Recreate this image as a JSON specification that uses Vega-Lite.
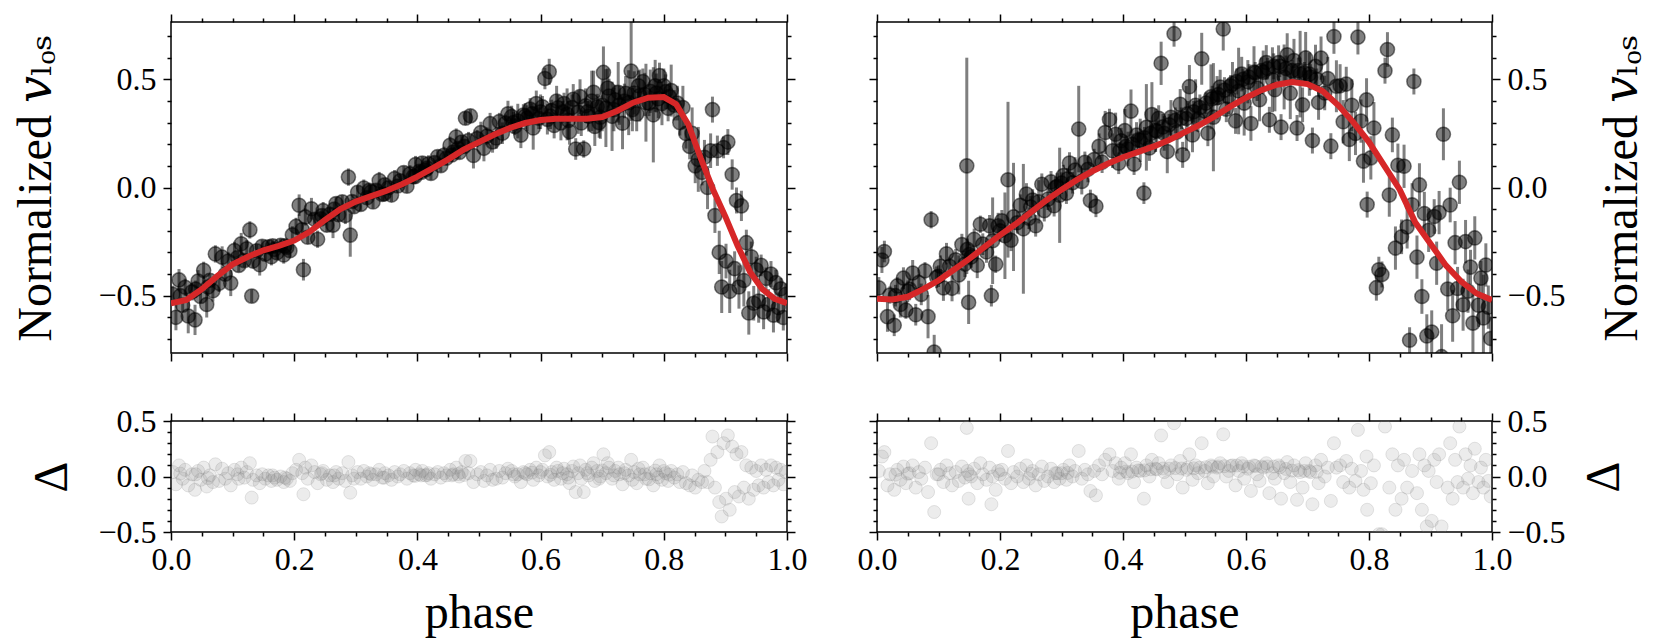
{
  "$schema": "https://vega.github.io/schema/vega-lite/v6.json",
  "background": "white",
  "padding": {"left": 12, "top": 12, "right": 5, "bottom": 5},
  "config": {
    "view": {"stroke": "black", "strokeWidth": 1.5},
    "axis": {
      "grid": false, "domain": false, "tickColor": "black", "tickWidth": 1.5,
      "labelFont": "Liberation Serif", "labelFontSize": 32, "labelColor": "black",
      "labelFlush": false, "labelOverlap": false, "labelPadding": 7,
      "titleFont": "Liberation Serif, DejaVu Serif", "titleFontSize": 48, "titleFontWeight": "normal", "titleColor": "black"
    }
  },
  "datasets": {
    "ptsL": [
      {"phase":0.003,"v":-0.494,"e":0.04,"d":0.04},{"phase":0.008,"v":-0.60,"e":0.06,"d":-0.07},{"phase":0.013,"v":-0.427,"e":0.05,"d":0.10},{"phase":0.019,"v":-0.544,"e":0.03,"d":-0.02},{"phase":0.023,"v":-0.461,"e":0.04,"d":0.06},
      {"phase":0.028,"v":-0.594,"e":0.08,"d":-0.08},{"phase":0.034,"v":-0.482,"e":0.04,"d":0.02},{"phase":0.039,"v":-0.612,"e":0.07,"d":-0.12},{"phase":0.044,"v":-0.432,"e":0.05,"d":0.05},{"phase":0.048,"v":-0.504,"e":0.03,"d":-0.03},
      {"phase":0.053,"v":-0.383,"e":0.04,"d":0.08},{"phase":0.058,"v":-0.541,"e":0.06,"d":-0.09},{"phase":0.063,"v":-0.429,"e":0.03,"d":0.01},{"phase":0.068,"v":-0.477,"e":0.05,"d":-0.05},{"phase":0.072,"v":-0.307,"e":0.04,"d":0.11},
      {"phase":0.078,"v":-0.443,"e":0.04,"d":-0.04},{"phase":0.083,"v":-0.322,"e":0.05,"d":0.07},{"phase":0.088,"v":-0.401,"e":0.03,"d":-0.02},{"phase":0.093,"v":-0.34,"e":0.04,"d":0.03},{"phase":0.097,"v":-0.442,"e":0.06,"d":-0.08},
      {"phase":0.103,"v":-0.291,"e":0.04,"d":0.06},{"phase":0.108,"v":-0.324,"e":0.03,"d":0.02},{"phase":0.114,"v":-0.26,"e":0.05,"d":0.08},{"phase":0.119,"v":-0.338,"e":0.03,"d":-0.01},{"phase":0.123,"v":-0.283,"e":0.04,"d":0.04},
      {"phase":0.128,"v":-0.196,"e":0.04,"d":0.12},{"phase":0.131,"v":-0.502,"e":0.03,"d":-0.19},{"phase":0.133,"v":-0.34,"e":0.03,"d":-0.03},{"phase":0.139,"v":-0.293,"e":0.03,"d":0.01},{"phase":0.144,"v":-0.357,"e":0.05,"d":-0.06},{"phase":0.148,"v":-0.272,"e":0.03,"d":0.02},
      {"phase":0.153,"v":-0.308,"e":0.03,"d":-0.02},{"phase":0.158,"v":-0.274,"e":0.03,"d":0.01},{"phase":0.163,"v":-0.32,"e":0.04,"d":-0.04},{"phase":0.168,"v":-0.286,"e":0.02,"d":-0.01},{"phase":0.172,"v":-0.302,"e":0.03,"d":-0.03},
      {"phase":0.178,"v":-0.267,"e":0.03,"d":0.0},{"phase":0.183,"v":-0.312,"e":0.04,"d":-0.05},{"phase":0.188,"v":-0.277,"e":0.03,"d":-0.02},{"phase":0.193,"v":-0.292,"e":0.03,"d":-0.04},{"phase":0.197,"v":-0.219,"e":0.04,"d":0.03},
      {"phase":0.203,"v":-0.18,"e":0.04,"d":0.06},{"phase":0.208,"v":-0.082,"e":0.05,"d":0.15},{"phase":0.213,"v":-0.194,"e":0.03,"d":0.03},{"phase":0.215,"v":-0.38,"e":0.05,"d":-0.16},{"phase":0.218,"v":-0.136,"e":0.04,"d":0.08},{"phase":0.222,"v":-0.23,"e":0.03,"d":-0.02},
      {"phase":0.228,"v":-0.098,"e":0.05,"d":0.10},{"phase":0.233,"v":-0.147,"e":0.03,"d":0.04},{"phase":0.238,"v":-0.239,"e":0.04,"d":-0.06},{"phase":0.243,"v":-0.145,"e":0.03,"d":0.02},{"phase":0.247,"v":-0.107,"e":0.04,"d":0.05},
      {"phase":0.253,"v":-0.174,"e":0.03,"d":-0.03},{"phase":0.258,"v":-0.124,"e":0.03,"d":0.01},{"phase":0.263,"v":-0.174,"e":0.06,"d":-0.05},{"phase":0.268,"v":-0.074,"e":0.03,"d":0.04},{"phase":0.272,"v":-0.126,"e":0.03,"d":-0.02},
      {"phase":0.278,"v":-0.066,"e":0.03,"d":0.03},{"phase":0.283,"v":-0.129,"e":0.04,"d":-0.04},{"phase":0.288,"v":0.048,"e":0.04,"d":0.13},{"phase":0.291,"v":-0.22,"e":0.10,"d":-0.146},{"phase":0.294,"v":-0.065,"e":0.03,"d":0.01},{"phase":0.297,"v":-0.089,"e":0.03,"d":-0.02},
      {"phase":0.303,"v":-0.022,"e":0.03,"d":0.04},{"phase":0.308,"v":-0.078,"e":0.03,"d":-0.02},{"phase":0.313,"v":-0.003,"e":0.04,"d":0.05},{"phase":0.318,"v":-0.047,"e":0.03,"d":0.0},{"phase":0.322,"v":-0.013,"e":0.03,"d":0.03},
      {"phase":0.328,"v":-0.067,"e":0.03,"d":-0.03},{"phase":0.333,"v":-0.013,"e":0.03,"d":0.02},{"phase":0.338,"v":0.032,"e":0.04,"d":0.06},{"phase":0.343,"v":-0.032,"e":0.03,"d":-0.01},{"phase":0.347,"v":0.012,"e":0.03,"d":0.03},
      {"phase":0.353,"v":-0.001,"e":0.03,"d":0.01},{"phase":0.358,"v":-0.035,"e":0.03,"d":-0.03},{"phase":0.363,"v":0.041,"e":0.04,"d":0.04},{"phase":0.368,"v":0.007,"e":0.03,"d":0.0},{"phase":0.372,"v":0.031,"e":0.03,"d":0.02},
      {"phase":0.378,"v":0.069,"e":0.03,"d":0.05},{"phase":0.383,"v":0.006,"e":0.03,"d":-0.02},{"phase":0.388,"v":0.063,"e":0.04,"d":0.03},{"phase":0.393,"v":0.05,"e":0.03,"d":0.01},{"phase":0.397,"v":0.106,"e":0.04,"d":0.06},
      {"phase":0.403,"v":0.075,"e":0.03,"d":0.02},{"phase":0.408,"v":0.113,"e":0.03,"d":0.05},{"phase":0.413,"v":0.081,"e":0.03,"d":0.01},{"phase":0.418,"v":0.109,"e":0.04,"d":0.03},{"phase":0.422,"v":0.065,"e":0.03,"d":-0.02},
      {"phase":0.428,"v":0.115,"e":0.03,"d":0.02},{"phase":0.433,"v":0.143,"e":0.03,"d":0.04},{"phase":0.438,"v":0.101,"e":0.03,"d":-0.01},{"phase":0.443,"v":0.149,"e":0.04,"d":0.03},{"phase":0.447,"v":0.135,"e":0.03,"d":0.01},
      {"phase":0.453,"v":0.195,"e":0.04,"d":0.06},{"phase":0.458,"v":0.164,"e":0.03,"d":0.02},{"phase":0.463,"v":0.233,"e":0.04,"d":0.08},{"phase":0.468,"v":0.162,"e":0.03,"d":0.0},{"phase":0.472,"v":0.21,"e":0.03,"d":0.04},
      {"phase":0.478,"v":0.32,"e":0.03,"d":0.14},{"phase":0.483,"v":0.217,"e":0.04,"d":0.03},{"phase":0.486,"v":0.331,"e":0.03,"d":0.14},{"phase":0.491,"v":0.148,"e":0.06,"d":-0.05},{"phase":0.497,"v":0.226,"e":0.04,"d":0.02},
      {"phase":0.503,"v":0.254,"e":0.05,"d":0.04},{"phase":0.508,"v":0.181,"e":0.06,"d":-0.04},{"phase":0.513,"v":0.238,"e":0.04,"d":0.01},{"phase":0.518,"v":0.295,"e":0.05,"d":0.06},{"phase":0.522,"v":0.211,"e":0.05,"d":-0.03},
      {"phase":0.528,"v":0.229,"e":0.05,"d":-0.02},{"phase":0.533,"v":0.305,"e":0.04,"d":0.05},{"phase":0.538,"v":0.251,"e":0.05,"d":-0.01},{"phase":0.543,"v":0.297,"e":0.04,"d":0.03},{"phase":0.547,"v":0.341,"e":0.06,"d":0.07},
      {"phase":0.553,"v":0.328,"e":0.05,"d":0.05},{"phase":0.558,"v":0.282,"e":0.04,"d":0.0},{"phase":0.563,"v":0.307,"e":0.08,"d":0.02},{"phase":0.568,"v":0.242,"e":0.06,"d":-0.05},{"phase":0.572,"v":0.335,"e":0.05,"d":0.04},
      {"phase":0.578,"v":0.32,"e":0.06,"d":0.02},{"phase":0.583,"v":0.363,"e":0.05,"d":0.06},{"phase":0.588,"v":0.275,"e":0.10,"d":-0.03},{"phase":0.593,"v":0.388,"e":0.06,"d":0.08},{"phase":0.597,"v":0.32,"e":0.05,"d":0.01},
      {"phase":0.603,"v":0.373,"e":0.05,"d":0.06},{"phase":0.607,"v":0.504,"e":0.05,"d":0.19},{"phase":0.611,"v":0.315,"e":0.07,"d":0.0},{"phase":0.614,"v":0.535,"e":0.06,"d":0.22},{"phase":0.618,"v":0.356,"e":0.05,"d":0.04},{"phase":0.622,"v":0.287,"e":0.06,"d":-0.03},
      {"phase":0.628,"v":0.368,"e":0.06,"d":0.05},{"phase":0.633,"v":0.298,"e":0.08,"d":-0.02},{"phase":0.638,"v":0.388,"e":0.05,"d":0.07},{"phase":0.643,"v":0.338,"e":0.12,"d":0.02},{"phase":0.647,"v":0.258,"e":0.06,"d":-0.06},
      {"phase":0.653,"v":0.408,"e":0.07,"d":0.09},{"phase":0.657,"v":0.178,"e":0.05,"d":-0.14},{"phase":0.661,"v":0.348,"e":0.10,"d":0.03},{"phase":0.666,"v":0.298,"e":0.06,"d":-0.02},{"phase":0.670,"v":0.178,"e":0.04,"d":-0.14},{"phase":0.673,"v":0.378,"e":0.08,"d":0.06},
      {"phase":0.678,"v":0.329,"e":0.07,"d":0.01},{"phase":0.683,"v":0.40,"e":0.14,"d":0.08},{"phase":0.688,"v":0.282,"e":0.09,"d":-0.04},{"phase":0.692,"v":0.373,"e":0.06,"d":0.05},{"phase":0.697,"v":0.325,"e":0.10,"d":0.0},
      {"phase":0.702,"v":0.532,"e":0.12,"d":0.20},{"phase":0.706,"v":0.367,"e":0.18,"d":0.03},{"phase":0.711,"v":0.423,"e":0.08,"d":0.08},{"phase":0.716,"v":0.329,"e":0.16,"d":-0.02},{"phase":0.721,"v":0.405,"e":0.07,"d":0.05},
      {"phase":0.728,"v":0.38,"e":0.09,"d":0.02},{"phase":0.733,"v":0.297,"e":0.12,"d":-0.07},{"phase":0.738,"v":0.435,"e":0.08,"d":0.06},{"phase":0.743,"v":0.392,"e":0.15,"d":0.01},{"phase":0.747,"v":0.538,"e":0.23,"d":0.15},
      {"phase":0.752,"v":0.437,"e":0.10,"d":0.04},{"phase":0.756,"v":0.34,"e":0.08,"d":-0.06},{"phase":0.761,"v":0.425,"e":0.12,"d":0.02},{"phase":0.766,"v":0.49,"e":0.06,"d":0.08},{"phase":0.771,"v":0.392,"e":0.18,"d":-0.02},
      {"phase":0.778,"v":0.445,"e":0.10,"d":0.03},{"phase":0.783,"v":0.336,"e":0.22,"d":-0.08},{"phase":0.788,"v":0.437,"e":0.09,"d":0.02},{"phase":0.793,"v":0.517,"e":0.06,"d":0.10},{"phase":0.797,"v":0.388,"e":0.10,"d":-0.03},
      {"phase":0.803,"v":0.443,"e":0.08,"d":0.03},{"phase":0.807,"v":0.366,"e":0.06,"d":-0.04},{"phase":0.812,"v":0.448,"e":0.12,"d":0.05},{"phase":0.817,"v":0.38,"e":0.07,"d":-0.01},
      {"phase":0.822,"v":0.39,"e":0.08,"d":0.02},{"phase":0.826,"v":0.30,"e":0.06,"d":-0.05},{"phase":0.831,"v":0.37,"e":0.10,"d":0.04},{"phase":0.836,"v":0.25,"e":0.07,"d":-0.06},
      {"phase":0.842,"v":0.19,"e":0.06,"d":-0.08},{"phase":0.846,"v":0.25,"e":0.12,"d":0.01},{"phase":0.851,"v":0.10,"e":0.08,"d":-0.10},{"phase":0.856,"v":0.13,"e":0.15,"d":-0.03},
      {"phase":0.862,"v":0.07,"e":0.06,"d":-0.05},{"phase":0.866,"v":0.14,"e":0.08,"d":0.05},{"phase":0.871,"v":0.0,"e":0.10,"d":-0.05},{"phase":0.876,"v":0.17,"e":0.08,"d":0.15},{"phase":0.879,"v":0.36,"e":0.06,"d":0.36},
      {"phase":0.883,"v":-0.13,"e":0.08,"d":-0.10},{"phase":0.887,"v":0.17,"e":0.07,"d":0.22},{"phase":0.890,"v":-0.30,"e":0.10,"d":-0.23},{"phase":0.894,"v":-0.46,"e":0.12,"d":-0.36},{"phase":0.897,"v":0.185,"e":0.05,"d":0.30},
      {"phase":0.901,"v":-0.34,"e":0.08,"d":-0.20},{"phase":0.904,"v":0.21,"e":0.06,"d":0.37},{"phase":0.907,"v":-0.48,"e":0.10,"d":-0.30},{"phase":0.911,"v":0.06,"e":0.07,"d":0.27},{"phase":0.915,"v":-0.375,"e":0.08,"d":-0.14},{"phase":0.918,"v":-0.06,"e":0.06,"d":0.20},
      {"phase":0.922,"v":-0.46,"e":0.10,"d":-0.18},{"phase":0.926,"v":-0.085,"e":0.07,"d":0.22},{"phase":0.930,"v":-0.43,"e":0.12,"d":-0.10},{"phase":0.934,"v":-0.255,"e":0.06,"d":0.10},{"phase":0.938,"v":-0.58,"e":0.10,"d":-0.20},
      {"phase":0.942,"v":-0.32,"e":0.07,"d":0.08},{"phase":0.946,"v":-0.535,"e":0.08,"d":-0.12},{"phase":0.950,"v":-0.38,"e":0.06,"d":0.05},{"phase":0.954,"v":-0.525,"e":0.10,"d":-0.08},{"phase":0.958,"v":-0.36,"e":0.05,"d":0.10},
      {"phase":0.962,"v":-0.575,"e":0.08,"d":-0.10},{"phase":0.966,"v":-0.42,"e":0.05,"d":0.06},{"phase":0.970,"v":-0.54,"e":0.07,"d":-0.05},{"phase":0.974,"v":-0.40,"e":0.06,"d":0.10},{"phase":0.978,"v":-0.59,"e":0.08,"d":-0.08},
      {"phase":0.982,"v":-0.44,"e":0.06,"d":0.08},{"phase":0.986,"v":-0.555,"e":0.07,"d":-0.03},{"phase":0.990,"v":-0.468,"e":0.05,"d":0.06},{"phase":0.994,"v":-0.601,"e":0.06,"d":-0.07},{"phase":0.998,"v":-0.494,"e":0.05,"d":0.04},
      {"phase":0.556,"v":0.30,"e":0.05,"d":0.02},{"phase":0.575,"v":0.33,"e":0.06,"d":0.03},{"phase":0.586,"v":0.34,"e":0.05,"d":0.035},{"phase":0.600,"v":0.35,"e":0.08,"d":0.04},{"phase":0.616,"v":0.33,"e":0.06,"d":0.015},
      {"phase":0.626,"v":0.40,"e":0.07,"d":0.08},{"phase":0.636,"v":0.35,"e":0.05,"d":0.03},{"phase":0.645,"v":0.31,"e":0.09,"d":-0.01},{"phase":0.651,"v":0.37,"e":0.06,"d":0.05},{"phase":0.664,"v":0.42,"e":0.08,"d":0.10},
      {"phase":0.676,"v":0.35,"e":0.05,"d":0.03},{"phase":0.686,"v":0.44,"e":0.10,"d":0.12},{"phase":0.695,"v":0.30,"e":0.07,"d":-0.02},{"phase":0.700,"v":0.38,"e":0.12,"d":0.054},{"phase":0.709,"v":0.46,"e":0.09,"d":0.12},
      {"phase":0.719,"v":0.36,"e":0.10,"d":0.01},{"phase":0.726,"v":0.44,"e":0.14,"d":0.08},{"phase":0.736,"v":0.40,"e":0.08,"d":0.03},{"phase":0.749,"v":0.36,"e":0.10,"d":-0.03},{"phase":0.759,"v":0.47,"e":0.07,"d":0.07},
      {"phase":0.769,"v":0.43,"e":0.10,"d":0.02},{"phase":0.776,"v":0.39,"e":0.06,"d":-0.025},{"phase":0.786,"v":0.47,"e":0.12,"d":0.053},{"phase":0.791,"v":0.41,"e":0.09,"d":-0.007},{"phase":0.800,"v":0.47,"e":0.08,"d":0.05},
      {"phase":0.809,"v":0.42,"e":0.06,"d":0.017},{"phase":0.476,"v":0.19,"e":0.03,"d":0.014},{"phase":0.466,"v":0.18,"e":0.03,"d":0.022},{"phase":0.456,"v":0.15,"e":0.03,"d":0.01},{"phase":0.416,"v":0.09,"e":0.03,"d":0.014},
      {"phase":0.406,"v":0.07,"e":0.03,"d":0.01},{"phase":0.396,"v":0.05,"e":0.03,"d":0.005},{"phase":0.346,"v":-0.03,"e":0.03,"d":-0.011},{"phase":0.325,"v":-0.02,"e":0.03,"d":0.02},{"phase":0.265,"v":-0.10,"e":0.03,"d":0.01},
      {"phase":0.245,"v":-0.13,"e":0.03,"d":0.03},{"phase":0.185,"v":-0.27,"e":0.03,"d":-0.01},{"phase":0.165,"v":-0.27,"e":0.03,"d":0.01},{"phase":0.110,"v":-0.36,"e":0.03,"d":-0.02},{"phase":0.060,"v":-0.46,"e":0.04,"d":-0.014},
      {"phase":0.040,"v":-0.47,"e":0.04,"d":0.02},{"phase":0.015,"v":-0.50,"e":0.03,"d":0.026}
    ],
    "ptsR": [
      {"phase":0.003,"v":-0.464,"e":0.05,"d":0.05},{"phase":0.008,"v":-0.335,"e":0.06,"d":0.18},{"phase":0.012,"v":-0.296,"e":0.05,"d":0.22},{"phase":0.017,"v":-0.597,"e":0.07,"d":-0.08},{"phase":0.021,"v":-0.497,"e":0.04,"d":0.02},
      {"phase":0.028,"v":-0.637,"e":0.05,"d":-0.12},{"phase":0.033,"v":-0.455,"e":0.04,"d":0.06},{"phase":0.038,"v":-0.541,"e":0.06,"d":-0.03},{"phase":0.043,"v":-0.419,"e":0.05,"d":0.09},{"phase":0.047,"v":-0.567,"e":0.04,"d":-0.06},
      {"phase":0.053,"v":-0.471,"e":0.05,"d":0.03},{"phase":0.058,"v":-0.395,"e":0.06,"d":0.10},{"phase":0.063,"v":-0.588,"e":0.05,"d":-0.10},{"phase":0.068,"v":-0.44,"e":0.04,"d":0.04},{"phase":0.072,"v":-0.494,"e":0.05,"d":-0.02},
      {"phase":0.078,"v":-0.385,"e":0.04,"d":0.08},{"phase":0.083,"v":-0.597,"e":0.10,"d":-0.14},{"phase":0.088,"v":-0.149,"e":0.04,"d":0.30},{"phase":0.093,"v":-0.761,"e":0.08,"d":-0.32},{"phase":0.097,"v":-0.415,"e":0.05,"d":0.02},
      {"phase":0.103,"v":-0.364,"e":0.05,"d":0.06},{"phase":0.108,"v":-0.464,"e":0.06,"d":-0.05},{"phase":0.113,"v":-0.306,"e":0.05,"d":0.10},{"phase":0.118,"v":-0.364,"e":0.04,"d":0.03},{"phase":0.122,"v":-0.466,"e":0.06,"d":-0.08},
      {"phase":0.128,"v":-0.334,"e":0.05,"d":0.04},{"phase":0.133,"v":-0.404,"e":0.09,"d":-0.04},{"phase":0.138,"v":-0.264,"e":0.05,"d":0.09},{"phase":0.143,"v":-0.354,"e":0.06,"d":-0.01},{"phase":0.146,"v":0.10,"e":0.50,"d":0.438},{"phase":0.147,"v":-0.286,"e":0.05,"d":0.05},{"phase":0.149,"v":-0.531,"e":0.10,"d":-0.20},
      {"phase":0.153,"v":-0.321,"e":0.05,"d":0.0},{"phase":0.158,"v":-0.24,"e":0.05,"d":0.07},{"phase":0.163,"v":-0.359,"e":0.06,"d":-0.06},{"phase":0.168,"v":-0.17,"e":0.04,"d":0.12},{"phase":0.172,"v":-0.262,"e":0.05,"d":0.02},
      {"phase":0.178,"v":-0.298,"e":0.05,"d":-0.03},{"phase":0.183,"v":-0.177,"e":0.05,"d":0.08},{"phase":0.186,"v":-0.50,"e":0.05,"d":-0.25},{"phase":0.188,"v":-0.246,"e":0.20,"d":0.0},{"phase":0.193,"v":-0.355,"e":0.04,"d":-0.12},{"phase":0.197,"v":-0.177,"e":0.06,"d":0.05},
      {"phase":0.203,"v":-0.154,"e":0.05,"d":0.06},{"phase":0.208,"v":-0.223,"e":0.20,"d":-0.02},{"phase":0.213,"v":0.036,"e":0.36,"d":0.23},{"phase":0.218,"v":-0.244,"e":0.05,"d":-0.06},{"phase":0.222,"v":-0.136,"e":0.25,"d":0.04},
      {"phase":0.228,"v":-0.163,"e":0.05,"d":0.0},{"phase":0.233,"v":-0.082,"e":0.05,"d":0.07},{"phase":0.238,"v":-0.191,"e":0.30,"d":-0.05},{"phase":0.243,"v":-0.03,"e":0.05,"d":0.10},{"phase":0.247,"v":-0.142,"e":0.05,"d":-0.02},
      {"phase":0.253,"v":-0.058,"e":0.05,"d":0.05},{"phase":0.258,"v":-0.177,"e":0.05,"d":-0.08},{"phase":0.263,"v":-0.066,"e":0.10,"d":0.02},{"phase":0.268,"v":0.015,"e":0.05,"d":0.09},{"phase":0.272,"v":-0.107,"e":0.05,"d":-0.04},
      {"phase":0.278,"v":-0.054,"e":0.05,"d":0.0},{"phase":0.283,"v":0.026,"e":0.05,"d":0.07},{"phase":0.288,"v":-0.084,"e":0.05,"d":-0.05},{"phase":0.293,"v":0.006,"e":0.06,"d":0.03},{"phase":0.297,"v":-0.036,"e":0.22,"d":-0.02},
      {"phase":0.303,"v":0.055,"e":0.05,"d":0.06},{"phase":0.308,"v":-0.026,"e":0.05,"d":-0.03},{"phase":0.313,"v":0.113,"e":0.05,"d":0.10},{"phase":0.318,"v":0.022,"e":0.05,"d":0.0},{"phase":0.322,"v":0.08,"e":0.06,"d":0.05},
      {"phase":0.328,"v":0.27,"e":0.20,"d":0.23},{"phase":0.333,"v":0.028,"e":0.06,"d":-0.02},{"phase":0.338,"v":0.116,"e":0.05,"d":0.06},{"phase":0.343,"v":0.084,"e":0.06,"d":0.02},{"phase":0.347,"v":-0.06,"e":0.05,"d":-0.13},
      {"phase":0.353,"v":0.129,"e":0.05,"d":0.05},{"phase":0.356,"v":-0.087,"e":0.05,"d":-0.17},{"phase":0.361,"v":0.19,"e":0.06,"d":0.10},{"phase":0.366,"v":0.117,"e":0.05,"d":0.02},{"phase":0.371,"v":0.254,"e":0.10,"d":0.15},
      {"phase":0.378,"v":0.314,"e":0.05,"d":0.20},{"phase":0.383,"v":0.17,"e":0.08,"d":0.05},{"phase":0.388,"v":0.246,"e":0.10,"d":0.12},{"phase":0.393,"v":0.112,"e":0.05,"d":-0.02},{"phase":0.397,"v":0.216,"e":0.06,"d":0.08},
      {"phase":0.403,"v":0.263,"e":0.10,"d":0.12},{"phase":0.408,"v":0.178,"e":0.08,"d":0.03},{"phase":0.413,"v":0.353,"e":0.10,"d":0.20},{"phase":0.418,"v":0.108,"e":0.05,"d":-0.05},{"phase":0.422,"v":0.242,"e":0.06,"d":0.08},
      {"phase":0.428,"v":0.218,"e":0.10,"d":0.05},{"phase":0.434,"v":-0.026,"e":0.05,"d":-0.20},{"phase":0.438,"v":0.278,"e":0.20,"d":0.10},{"phase":0.443,"v":0.183,"e":0.06,"d":0.0},{"phase":0.447,"v":0.337,"e":0.15,"d":0.15},
      {"phase":0.453,"v":0.264,"e":0.10,"d":0.07},{"phase":0.458,"v":0.32,"e":0.06,"d":0.12},{"phase":0.462,"v":0.574,"e":0.10,"d":0.37},{"phase":0.467,"v":0.25,"e":0.08,"d":0.04},{"phase":0.472,"v":0.166,"e":0.10,"d":-0.05},
      {"phase":0.478,"v":0.324,"e":0.08,"d":0.10},{"phase":0.483,"v":0.711,"e":0.06,"d":0.48},{"phase":0.488,"v":0.257,"e":0.10,"d":0.02},{"phase":0.493,"v":0.385,"e":0.07,"d":0.14},{"phase":0.497,"v":0.151,"e":0.06,"d":-0.10},
      {"phase":0.503,"v":0.319,"e":0.15,"d":0.06},{"phase":0.508,"v":0.466,"e":0.10,"d":0.20},{"phase":0.513,"v":0.243,"e":0.08,"d":-0.03},{"phase":0.518,"v":0.38,"e":0.12,"d":0.10},{"phase":0.522,"v":0.316,"e":0.06,"d":0.03},
      {"phase":0.528,"v":0.595,"e":0.12,"d":0.30},{"phase":0.533,"v":0.353,"e":0.06,"d":0.05},{"phase":0.538,"v":0.251,"e":0.06,"d":-0.06},{"phase":0.543,"v":0.419,"e":0.15,"d":0.10},{"phase":0.547,"v":0.325,"e":0.25,"d":0.0},
      {"phase":0.553,"v":0.415,"e":0.10,"d":0.08},{"phase":0.558,"v":0.464,"e":0.08,"d":0.12},{"phase":0.563,"v":0.733,"e":0.10,"d":0.38},{"phase":0.568,"v":0.362,"e":0.06,"d":0.0},{"phase":0.572,"v":0.419,"e":0.08,"d":0.05},
      {"phase":0.578,"v":0.48,"e":0.10,"d":0.10},{"phase":0.583,"v":0.308,"e":0.06,"d":-0.08},{"phase":0.588,"v":0.446,"e":0.20,"d":0.05},{"phase":0.593,"v":0.524,"e":0.08,"d":0.12},{"phase":0.597,"v":0.39,"e":0.15,"d":-0.02},
      {"phase":0.603,"v":0.489,"e":0.10,"d":0.07},{"phase":0.608,"v":0.296,"e":0.08,"d":-0.13},{"phase":0.613,"v":0.533,"e":0.12,"d":0.10},{"phase":0.618,"v":0.46,"e":0.06,"d":0.02},{"phase":0.622,"v":0.406,"e":0.10,"d":-0.04},
      {"phase":0.628,"v":0.533,"e":0.10,"d":0.08},{"phase":0.633,"v":0.578,"e":0.08,"d":0.12},{"phase":0.638,"v":0.313,"e":0.06,"d":-0.15},{"phase":0.643,"v":0.498,"e":0.15,"d":0.03},{"phase":0.647,"v":0.452,"e":0.10,"d":-0.02},
      {"phase":0.653,"v":0.577,"e":0.08,"d":0.10},{"phase":0.657,"v":0.279,"e":0.06,"d":-0.20},{"phase":0.662,"v":0.511,"e":0.15,"d":0.03},{"phase":0.667,"v":0.613,"e":0.10,"d":0.13},{"phase":0.672,"v":0.436,"e":0.12,"d":-0.05},
      {"phase":0.678,"v":0.587,"e":0.10,"d":0.10},{"phase":0.683,"v":0.275,"e":0.06,"d":-0.21},{"phase":0.688,"v":0.524,"e":0.20,"d":0.04},{"phase":0.692,"v":0.382,"e":0.08,"d":-0.10},{"phase":0.697,"v":0.599,"e":0.12,"d":0.12},
      {"phase":0.703,"v":0.524,"e":0.10,"d":0.05},{"phase":0.708,"v":0.217,"e":0.06,"d":-0.25},{"phase":0.713,"v":0.56,"e":0.10,"d":0.10},{"phase":0.718,"v":0.393,"e":0.08,"d":-0.06},{"phase":0.722,"v":0.598,"e":0.10,"d":0.15},
      {"phase":0.728,"v":0.437,"e":0.08,"d":0.0},{"phase":0.733,"v":0.504,"e":0.10,"d":0.08},{"phase":0.738,"v":0.191,"e":0.06,"d":-0.22},{"phase":0.743,"v":0.698,"e":0.08,"d":0.30},{"phase":0.747,"v":0.468,"e":0.12,"d":0.08},
      {"phase":0.753,"v":0.47,"e":0.10,"d":0.10},{"phase":0.758,"v":0.304,"e":0.10,"d":-0.05},{"phase":0.763,"v":0.478,"e":0.08,"d":0.14},{"phase":0.768,"v":0.222,"e":0.10,"d":-0.10},{"phase":0.772,"v":0.38,"e":0.12,"d":0.07},
      {"phase":0.778,"v":0.25,"e":0.10,"d":-0.04},{"phase":0.782,"v":0.695,"e":0.08,"d":0.42},{"phase":0.787,"v":0.307,"e":0.10,"d":0.05},{"phase":0.791,"v":0.122,"e":0.10,"d":-0.12},{"phase":0.796,"v":0.405,"e":0.10,"d":0.18},{"phase":0.797,"v":-0.079,"e":0.06,"d":-0.30},
      {"phase":0.803,"v":0.137,"e":0.10,"d":-0.06},{"phase":0.808,"v":0.275,"e":0.12,"d":0.10},{"phase":0.812,"v":-0.463,"e":0.06,"d":-0.62},{"phase":0.816,"v":-0.38,"e":0.06,"d":-0.52},{"phase":0.821,"v":-0.402,"e":0.06,"d":-0.52},
      {"phase":0.826,"v":0.54,"e":0.06,"d":0.45},{"phase":0.830,"v":0.638,"e":0.08,"d":0.56},{"phase":0.833,"v":-0.035,"e":0.10,"d":-0.10},{"phase":0.838,"v":0.243,"e":0.08,"d":0.20},{"phase":0.843,"v":-0.28,"e":0.10,"d":-0.30},{"phase":0.847,"v":0.103,"e":0.10,"d":0.10},
      {"phase":0.853,"v":-0.228,"e":0.08,"d":-0.20},{"phase":0.857,"v":0.098,"e":0.10,"d":0.15},{"phase":0.862,"v":-0.182,"e":0.10,"d":-0.10},{"phase":0.866,"v":-0.706,"e":0.06,"d":-0.60},{"phase":0.870,"v":-0.08,"e":0.10,"d":0.05},{"phase":0.873,"v":0.49,"e":0.06,"d":0.64},
      {"phase":0.878,"v":-0.322,"e":0.10,"d":-0.15},{"phase":0.882,"v":0.012,"e":0.10,"d":0.20},{"phase":0.886,"v":-0.504,"e":0.08,"d":-0.30},{"phase":0.890,"v":-0.12,"e":0.10,"d":0.10},{"phase":0.894,"v":-0.686,"e":0.10,"d":-0.45},{"phase":0.897,"v":-0.198,"e":0.10,"d":0.05},
      {"phase":0.902,"v":-0.668,"e":0.10,"d":-0.40},{"phase":0.906,"v":-0.134,"e":0.08,"d":0.15},{"phase":0.910,"v":-0.35,"e":0.10,"d":-0.05},{"phase":0.914,"v":-0.116,"e":0.10,"d":0.20},{"phase":0.918,"v":-0.782,"e":0.15,"d":-0.45},{"phase":0.921,"v":0.246,"e":0.12,"d":0.59},
      {"phase":0.928,"v":-0.469,"e":0.10,"d":-0.10},{"phase":0.932,"v":-0.081,"e":0.08,"d":0.30},{"phase":0.936,"v":-0.593,"e":0.12,"d":-0.20},{"phase":0.940,"v":-0.255,"e":0.10,"d":0.15},{"phase":0.944,"v":-0.467,"e":0.10,"d":-0.05},{"phase":0.947,"v":0.024,"e":0.10,"d":0.45},
      {"phase":0.953,"v":-0.542,"e":0.12,"d":-0.10},{"phase":0.957,"v":-0.25,"e":0.10,"d":0.20},{"phase":0.961,"v":-0.479,"e":0.10,"d":-0.02},{"phase":0.965,"v":-0.368,"e":0.08,"d":0.10},{"phase":0.969,"v":-0.627,"e":0.15,"d":-0.15},{"phase":0.972,"v":-0.233,"e":0.10,"d":0.25},
      {"phase":0.978,"v":-0.544,"e":0.10,"d":-0.05},{"phase":0.982,"v":-0.419,"e":0.08,"d":0.08},{"phase":0.986,"v":-0.603,"e":0.20,"d":-0.10},{"phase":0.990,"v":-0.358,"e":0.10,"d":0.15},{"phase":0.994,"v":-0.553,"e":0.10,"d":-0.04},{"phase":0.998,"v":-0.698,"e":0.10,"d":-0.18},
      {"phase":0.395,"v":0.17,"e":0.04,"d":0.033},{"phase":0.405,"v":0.19,"e":0.05,"d":0.045},{"phase":0.415,"v":0.20,"e":0.05,"d":0.045},{"phase":0.425,"v":0.22,"e":0.04,"d":0.055},{"phase":0.435,"v":0.23,"e":0.05,"d":0.055},
      {"phase":0.445,"v":0.25,"e":0.06,"d":0.065},{"phase":0.455,"v":0.26,"e":0.05,"d":0.064},{"phase":0.465,"v":0.28,"e":0.06,"d":0.072},{"phase":0.475,"v":0.29,"e":0.05,"d":0.07},{"phase":0.485,"v":0.31,"e":0.06,"d":0.076},
      {"phase":0.495,"v":0.32,"e":0.05,"d":0.072},{"phase":0.505,"v":0.34,"e":0.06,"d":0.078},{"phase":0.515,"v":0.35,"e":0.05,"d":0.074},{"phase":0.525,"v":0.37,"e":0.06,"d":0.08},{"phase":0.535,"v":0.39,"e":0.05,"d":0.084},
      {"phase":0.545,"v":0.41,"e":0.06,"d":0.088},{"phase":0.555,"v":0.43,"e":0.05,"d":0.091},{"phase":0.565,"v":0.45,"e":0.06,"d":0.093},{"phase":0.575,"v":0.47,"e":0.05,"d":0.095},{"phase":0.585,"v":0.49,"e":0.06,"d":0.099},
      {"phase":0.595,"v":0.50,"e":0.05,"d":0.093},{"phase":0.605,"v":0.51,"e":0.06,"d":0.088},{"phase":0.615,"v":0.53,"e":0.05,"d":0.094},{"phase":0.625,"v":0.54,"e":0.06,"d":0.09},{"phase":0.635,"v":0.55,"e":0.05,"d":0.09},
      {"phase":0.645,"v":0.56,"e":0.06,"d":0.09},{"phase":0.655,"v":0.56,"e":0.05,"d":0.083},{"phase":0.665,"v":0.55,"e":0.06,"d":0.068},{"phase":0.675,"v":0.54,"e":0.05,"d":0.053},{"phase":0.685,"v":0.54,"e":0.06,"d":0.057},
      {"phase":0.695,"v":0.53,"e":0.05,"d":0.05},{"phase":0.705,"v":0.51,"e":0.06,"d":0.039},{"phase":0.715,"v":0.50,"e":0.05,"d":0.042},{"phase":0.300,"v":0.02,"e":0.05,"d":0.03},{"phase":0.310,"v":0.04,"e":0.05,"d":0.032},
      {"phase":0.290,"v":0.0,"e":0.05,"d":0.03},{"phase":0.250,"v":-0.09,"e":0.05,"d":0.025},{"phase":0.200,"v":-0.20,"e":0.05,"d":0.02},{"phase":0.150,"v":-0.31,"e":0.05,"d":0.02},{"phase":0.100,"v":-0.41,"e":0.05,"d":0.02},
      {"phase":0.050,"v":-0.48,"e":0.05,"d":0.025},{"phase":0.030,"v":-0.50,"e":0.05,"d":0.017}
    ],
    "fitL": [
      {"phase":0.0,"v":-0.535},{"phase":0.025,"v":-0.52},{"phase":0.05,"v":-0.47},{"phase":0.075,"v":-0.41},{"phase":0.1,"v":-0.355},{"phase":0.125,"v":-0.32},{"phase":0.15,"v":-0.29},{"phase":0.175,"v":-0.27},{"phase":0.2,"v":-0.245},{"phase":0.225,"v":-0.205},{"phase":0.25,"v":-0.15},{"phase":0.275,"v":-0.1},{"phase":0.3,"v":-0.065},{"phase":0.325,"v":-0.04},{"phase":0.35,"v":-0.015},{"phase":0.375,"v":0.015},{"phase":0.4,"v":0.05},{"phase":0.425,"v":0.09},{"phase":0.45,"v":0.13},{"phase":0.475,"v":0.175},{"phase":0.5,"v":0.21},{"phase":0.525,"v":0.245},{"phase":0.55,"v":0.275},{"phase":0.575,"v":0.298},{"phase":0.6,"v":0.312},{"phase":0.625,"v":0.318},{"phase":0.65,"v":0.318},{"phase":0.675,"v":0.318},{"phase":0.7,"v":0.326},{"phase":0.725,"v":0.355},{"phase":0.75,"v":0.392},{"phase":0.775,"v":0.415},{"phase":0.8,"v":0.418},{"phase":0.82,"v":0.385},{"phase":0.84,"v":0.29},{"phase":0.86,"v":0.135},{"phase":0.88,"v":-0.01},{"phase":0.9,"v":-0.135},{"phase":0.92,"v":-0.27},{"phase":0.94,"v":-0.39},{"phase":0.96,"v":-0.47},{"phase":0.98,"v":-0.515},{"phase":1.0,"v":-0.535}
    ],
    "fitR": [
      {"phase":0.0,"v":-0.514},{"phase":0.025,"v":-0.518},{"phase":0.05,"v":-0.505},{"phase":0.075,"v":-0.47},{"phase":0.1,"v":-0.43},{"phase":0.125,"v":-0.38},{"phase":0.15,"v":-0.33},{"phase":0.175,"v":-0.275},{"phase":0.2,"v":-0.22},{"phase":0.225,"v":-0.17},{"phase":0.25,"v":-0.115},{"phase":0.275,"v":-0.06},{"phase":0.3,"v":-0.01},{"phase":0.325,"v":0.035},{"phase":0.35,"v":0.075},{"phase":0.375,"v":0.11},{"phase":0.4,"v":0.14},{"phase":0.425,"v":0.165},{"phase":0.45,"v":0.19},{"phase":0.475,"v":0.22},{"phase":0.5,"v":0.255},{"phase":0.525,"v":0.29},{"phase":0.55,"v":0.33},{"phase":0.575,"v":0.375},{"phase":0.6,"v":0.415},{"phase":0.625,"v":0.45},{"phase":0.65,"v":0.475},{"phase":0.675,"v":0.487},{"phase":0.7,"v":0.478},{"phase":0.725,"v":0.445},{"phase":0.75,"v":0.38},{"phase":0.775,"v":0.3},{"phase":0.8,"v":0.21},{"phase":0.825,"v":0.1},{"phase":0.85,"v":-0.01},{"phase":0.875,"v":-0.16},{"phase":0.9,"v":-0.26},{"phase":0.925,"v":-0.36},{"phase":0.95,"v":-0.435},{"phase":0.975,"v":-0.49},{"phase":1.0,"v":-0.52}
    ]
  },
  "concat": [
    {
      "width": 616, "height": 331,
      "layer": [
        {
          "data": {"name": "ptsL"},
          "mark": {"type": "errorbar", "color": "black", "opacity": 0.5, "thickness": 3, "clip": true},
          "encoding": {
            "x": {"field": "phase", "type": "quantitative", "scale": {"domain": [0, 1]}, "axis": null},
            "y": {"field": "v", "type": "quantitative", "scale": {"domain": [-0.765, 0.765]}, "axis": null},
            "yError": {"field": "e"}
          }
        },
        {
          "data": {"name": "ptsL"},
          "mark": {"type": "circle", "size": 200, "fill": "black", "fillOpacity": 0.5, "stroke": "black", "strokeOpacity": 0.5, "strokeWidth": 1.5, "clip": true},
          "encoding": {
            "x": {"field": "phase", "type": "quantitative", "scale": {"domain": [0, 1]},
              "axis": {"orient": "bottom", "values": [0,0.05,0.1,0.15,0.2,0.25,0.3,0.35,0.4,0.45,0.5,0.55,0.6,0.65,0.7,0.75,0.8,0.85,0.9,0.95,1], "labels": false, "title": null,
                "tickSize": {"condition": {"test": "abs(datum.value*5 - round(datum.value*5)) < 0.001", "value": 8}, "value": 4}}},
            "y": {"field": "v", "type": "quantitative", "scale": {"domain": [-0.765, 0.765]},
              "axis": {"orient": "left", "values": [-0.7,-0.6,-0.5,-0.4,-0.3,-0.2,-0.1,0,0.1,0.2,0.3,0.4,0.5,0.6,0.7],
                "labelExpr": "abs(datum.value*2 - round(datum.value*2)) < 0.001 ? format(datum.value, '.1f') : ''",
                "title": "Normalized 𝑣ₗₒₛ", "titlePadding": 37,
                "tickSize": {"condition": {"test": "abs(datum.value*2 - round(datum.value*2)) < 0.001", "value": 8}, "value": 4}}}
          }
        },
        {
          "data": {"name": "fitL"},
          "mark": {"type": "line", "color": "#d62728", "strokeWidth": 6, "clip": true},
          "encoding": {
            "x": {"field": "phase", "type": "quantitative", "scale": {"domain": [0, 1]}, "axis": null},
            "y": {"field": "v", "type": "quantitative", "scale": {"domain": [-0.765, 0.765]}, "axis": null}
          }
        },
        {
          "data": {"name": "fitL"},
          "mark": {"type": "point", "opacity": 0},
          "encoding": {
            "x": {"field": "phase", "type": "quantitative", "scale": {"domain": [0, 1]},
              "axis": {"orient": "top", "values": [0,0.05,0.1,0.15,0.2,0.25,0.3,0.35,0.4,0.45,0.5,0.55,0.6,0.65,0.7,0.75,0.8,0.85,0.9,0.95,1], "labels": false, "title": null,
                "tickSize": {"condition": {"test": "abs(datum.value*5 - round(datum.value*5)) < 0.001", "value": 8}, "value": 4}}},
            "y": {"field": "v", "type": "quantitative", "scale": {"domain": [-0.765, 0.765]},
              "axis": {"orient": "right", "values": [-0.7,-0.6,-0.5,-0.4,-0.3,-0.2,-0.1,0,0.1,0.2,0.3,0.4,0.5,0.6,0.7], "labels": false, "title": null,
                "tickSize": {"condition": {"test": "abs(datum.value*2 - round(datum.value*2)) < 0.001", "value": 8}, "value": 4}}}
          }
        }
      ],
      "resolve": {"axis": {"x": "independent", "y": "independent"}}
    },
    {
      "width": 615, "height": 331,
      "layer": [
        {
          "data": {"name": "ptsR"},
          "mark": {"type": "errorbar", "color": "black", "opacity": 0.5, "thickness": 3, "clip": true},
          "encoding": {
            "x": {"field": "phase", "type": "quantitative", "scale": {"domain": [0, 1]}, "axis": null},
            "y": {"field": "v", "type": "quantitative", "scale": {"domain": [-0.765, 0.765]}, "axis": null},
            "yError": {"field": "e"}
          }
        },
        {
          "data": {"name": "ptsR"},
          "mark": {"type": "circle", "size": 200, "fill": "black", "fillOpacity": 0.5, "stroke": "black", "strokeOpacity": 0.5, "strokeWidth": 1.5, "clip": true},
          "encoding": {
            "x": {"field": "phase", "type": "quantitative", "scale": {"domain": [0, 1]},
              "axis": {"orient": "bottom", "values": [0,0.05,0.1,0.15,0.2,0.25,0.3,0.35,0.4,0.45,0.5,0.55,0.6,0.65,0.7,0.75,0.8,0.85,0.9,0.95,1], "labels": false, "title": null,
                "tickSize": {"condition": {"test": "abs(datum.value*5 - round(datum.value*5)) < 0.001", "value": 8}, "value": 4}}},
            "y": {"field": "v", "type": "quantitative", "scale": {"domain": [-0.765, 0.765]},
              "axis": {"orient": "right", "values": [-0.7,-0.6,-0.5,-0.4,-0.3,-0.2,-0.1,0,0.1,0.2,0.3,0.4,0.5,0.6,0.7],
                "labelExpr": "abs(datum.value*2 - round(datum.value*2)) < 0.001 ? format(datum.value, '.1f') : ''",
                "title": "Normalized 𝑣ₗₒₛ", "titlePadding": 33, "titleAngle": 270, "titleBaseline": "top",
                "tickSize": {"condition": {"test": "abs(datum.value*2 - round(datum.value*2)) < 0.001", "value": 8}, "value": 4}}}
          }
        },
        {
          "data": {"name": "fitR"},
          "mark": {"type": "line", "color": "#d62728", "strokeWidth": 6, "clip": true},
          "encoding": {
            "x": {"field": "phase", "type": "quantitative", "scale": {"domain": [0, 1]}, "axis": null},
            "y": {"field": "v", "type": "quantitative", "scale": {"domain": [-0.765, 0.765]}, "axis": null}
          }
        },
        {
          "data": {"name": "fitR"},
          "mark": {"type": "point", "opacity": 0},
          "encoding": {
            "x": {"field": "phase", "type": "quantitative", "scale": {"domain": [0, 1]},
              "axis": {"orient": "top", "values": [0,0.05,0.1,0.15,0.2,0.25,0.3,0.35,0.4,0.45,0.5,0.55,0.6,0.65,0.7,0.75,0.8,0.85,0.9,0.95,1], "labels": false, "title": null,
                "tickSize": {"condition": {"test": "abs(datum.value*5 - round(datum.value*5)) < 0.001", "value": 8}, "value": 4}}},
            "y": {"field": "v", "type": "quantitative", "scale": {"domain": [-0.765, 0.765]},
              "axis": {"orient": "left", "values": [-0.7,-0.6,-0.5,-0.4,-0.3,-0.2,-0.1,0,0.1,0.2,0.3,0.4,0.5,0.6,0.7], "labels": false, "title": null,
                "tickSize": {"condition": {"test": "abs(datum.value*2 - round(datum.value*2)) < 0.001", "value": 8}, "value": 4}}}
          }
        }
      ],
      "resolve": {"axis": {"x": "independent", "y": "independent"}}
    },
    {
      "width": 616, "height": 111,
      "layer": [
        {
          "data": {"name": "ptsL"},
          "mark": {"type": "circle", "size": 170, "fill": "#808080", "fillOpacity": 0.15, "stroke": "#808080", "strokeOpacity": 0.2, "strokeWidth": 1, "clip": true},
          "encoding": {
            "x": {"field": "phase", "type": "quantitative", "scale": {"domain": [0, 1]},
              "axis": {"orient": "bottom", "values": [0,0.05,0.1,0.15,0.2,0.25,0.3,0.35,0.4,0.45,0.5,0.55,0.6,0.65,0.7,0.75,0.8,0.85,0.9,0.95,1],
                "labelExpr": "abs(datum.value*5 - round(datum.value*5)) < 0.001 ? format(datum.value, '.1f') : ''",
                "labelPadding": 4, "title": "phase", "titlePadding": 14,
                "tickSize": {"condition": {"test": "abs(datum.value*5 - round(datum.value*5)) < 0.001", "value": 8}, "value": 4}}},
            "y": {"field": "d", "type": "quantitative", "scale": {"domain": [-0.5, 0.5]},
              "axis": {"orient": "left", "values": [-0.5,-0.4,-0.3,-0.2,-0.1,0,0.1,0.2,0.3,0.4,0.5],
                "labelExpr": "abs(datum.value*2 - round(datum.value*2)) < 0.001 ? format(datum.value, '.1f') : ''",
                "title": "Δ", "titlePadding": 21,
                "tickSize": {"condition": {"test": "abs(datum.value*2 - round(datum.value*2)) < 0.001", "value": 8}, "value": 4}}}
          }
        },
        {
          "data": {"name": "ptsL"},
          "mark": {"type": "point", "opacity": 0},
          "encoding": {
            "x": {"field": "phase", "type": "quantitative", "scale": {"domain": [0, 1]},
              "axis": {"orient": "top", "values": [0,0.05,0.1,0.15,0.2,0.25,0.3,0.35,0.4,0.45,0.5,0.55,0.6,0.65,0.7,0.75,0.8,0.85,0.9,0.95,1], "labels": false, "title": null,
                "tickSize": {"condition": {"test": "abs(datum.value*5 - round(datum.value*5)) < 0.001", "value": 8}, "value": 4}}},
            "y": {"field": "d", "type": "quantitative", "scale": {"domain": [-0.5, 0.5]},
              "axis": {"orient": "right", "values": [-0.5,-0.4,-0.3,-0.2,-0.1,0,0.1,0.2,0.3,0.4,0.5], "labels": false, "title": null,
                "tickSize": {"condition": {"test": "abs(datum.value*2 - round(datum.value*2)) < 0.001", "value": 8}, "value": 4}}}
          }
        }
      ],
      "resolve": {"axis": {"x": "independent", "y": "independent"}}
    },
    {
      "width": 615, "height": 111,
      "layer": [
        {
          "data": {"name": "ptsR"},
          "mark": {"type": "circle", "size": 170, "fill": "#808080", "fillOpacity": 0.15, "stroke": "#808080", "strokeOpacity": 0.2, "strokeWidth": 1, "clip": true},
          "encoding": {
            "x": {"field": "phase", "type": "quantitative", "scale": {"domain": [0, 1]},
              "axis": {"orient": "bottom", "values": [0,0.05,0.1,0.15,0.2,0.25,0.3,0.35,0.4,0.45,0.5,0.55,0.6,0.65,0.7,0.75,0.8,0.85,0.9,0.95,1],
                "labelExpr": "abs(datum.value*5 - round(datum.value*5)) < 0.001 ? format(datum.value, '.1f') : ''",
                "labelPadding": 4, "title": "phase", "titlePadding": 14,
                "tickSize": {"condition": {"test": "abs(datum.value*5 - round(datum.value*5)) < 0.001", "value": 8}, "value": 4}}},
            "y": {"field": "d", "type": "quantitative", "scale": {"domain": [-0.5, 0.5]},
              "axis": {"orient": "right", "values": [-0.5,-0.4,-0.3,-0.2,-0.1,0,0.1,0.2,0.3,0.4,0.5],
                "labelExpr": "abs(datum.value*2 - round(datum.value*2)) < 0.001 ? format(datum.value, '.1f') : ''",
                "title": "Δ", "titlePadding": 15, "titleAngle": 270, "titleBaseline": "top",
                "tickSize": {"condition": {"test": "abs(datum.value*2 - round(datum.value*2)) < 0.001", "value": 8}, "value": 4}}}
          }
        },
        {
          "data": {"name": "ptsR"},
          "mark": {"type": "point", "opacity": 0},
          "encoding": {
            "x": {"field": "phase", "type": "quantitative", "scale": {"domain": [0, 1]},
              "axis": {"orient": "top", "values": [0,0.05,0.1,0.15,0.2,0.25,0.3,0.35,0.4,0.45,0.5,0.55,0.6,0.65,0.7,0.75,0.8,0.85,0.9,0.95,1], "labels": false, "title": null,
                "tickSize": {"condition": {"test": "abs(datum.value*5 - round(datum.value*5)) < 0.001", "value": 8}, "value": 4}}},
            "y": {"field": "d", "type": "quantitative", "scale": {"domain": [-0.5, 0.5]},
              "axis": {"orient": "left", "values": [-0.5,-0.4,-0.3,-0.2,-0.1,0,0.1,0.2,0.3,0.4,0.5], "labels": false, "title": null,
                "tickSize": {"condition": {"test": "abs(datum.value*2 - round(datum.value*2)) < 0.001", "value": 8}, "value": 4}}}
          }
        }
      ],
      "resolve": {"axis": {"x": "independent", "y": "independent"}}
    }
  ],
  "columns": 2,
  "spacing": {"row": 68, "column": 90},
  "bounds": "flush"
}
